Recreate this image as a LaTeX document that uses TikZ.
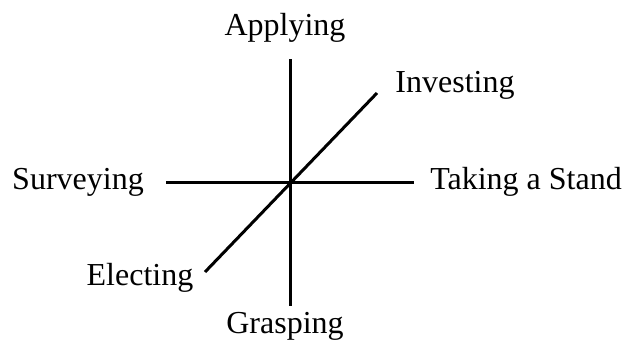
\documentclass[tikz,border=0pt]{standalone}
\usepackage{fontspec}
\setmainfont{Liberation Serif}
\usetikzlibrary{positioning}

\begin{document}
\begin{tikzpicture}[
  x=1pt, y=-1pt,
  axis/.style={line width=3pt},
  lbl/.style={anchor=base, inner sep=0pt, font=\fontsize{32}{36}\selectfont}
]
  \useasboundingbox (0,0) rectangle (628,343);

  % ends of the three axes
  \coordinate (top) at (290.5,59);
  \coordinate (bottom) at (290.5,306);
  \coordinate (left) at (166,182);
  \coordinate (right) at (414,182);
  \coordinate (low) at (205,272);
  \coordinate (high) at (377,93);

  \draw[axis] (top) -- (bottom);
  \draw[axis] (left) -- (right);
  \draw[axis] (low) -- (high);

  % labels
  \node[lbl] (applying) at (285,35) {Applying};
  \node[lbl] (investing) at (455,92) {Investing};
  \node[lbl] (surveying) at (78,189) {Surveying};
  \node[lbl] (stand) at (526,189) {Taking a Stand};
  \node[lbl] (electing) at (140,285) {Electing};
  \node[lbl] (grasping) at (285,333) {Grasping};
\end{tikzpicture}
\end{document}
